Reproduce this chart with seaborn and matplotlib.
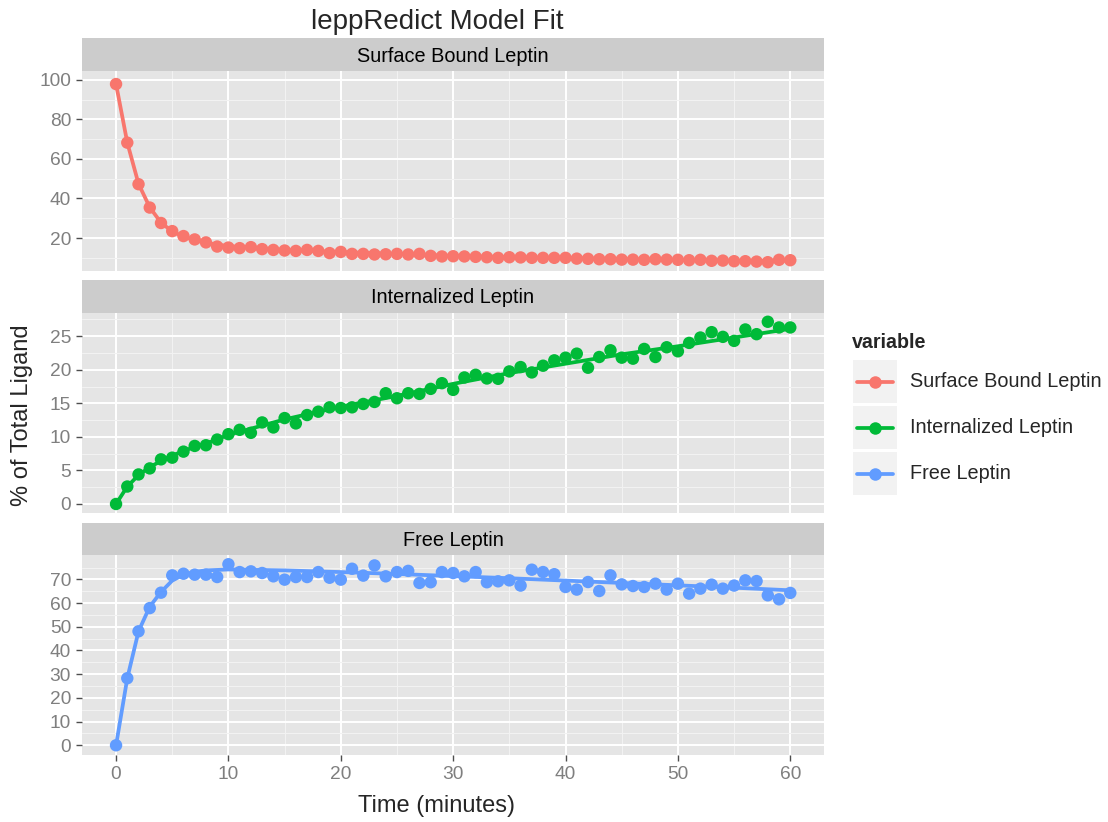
import numpy as np
import pandas as pd
import seaborn as sb
import matplotlib
matplotlib.use("Agg")
import matplotlib.pyplot as plt
import matplotlib.patches as mpatches
from matplotlib.lines import Line2D
from matplotlib.legend_handler import HandlerTuple, HandlerLine2D

# measured data, one point per minute
time = list(range(61))
surface = [97.8, 68.2, 47.2, 35.4, 27.6, 23.5, 21.0, 19.3, 17.8, 15.7,
           15.2, 14.9, 15.4, 14.4, 14.0, 13.7, 13.5, 14.0, 13.5, 12.4,
           13.0, 12.0, 12.0, 11.7, 11.8, 12.0, 11.7, 12.0, 11.0, 10.7,
           10.8, 10.7, 10.5, 10.3, 10.0, 10.3, 10.2, 10.0, 10.0, 10.0,
           10.0, 9.6, 9.5, 9.3, 9.3, 9.1, 9.1, 9.0, 9.3, 9.1,
           9.0, 8.8, 9.0, 8.5, 8.6, 8.3, 8.3, 8.1, 7.8, 9.0, 8.8]
internal = [0.0, 2.6, 4.4, 5.3, 6.65, 6.9, 7.8, 8.65, 8.75, 9.6,
            10.4, 11.05, 10.6, 12.15, 11.4, 12.8, 12.0, 13.25, 13.75, 14.4,
            14.3, 14.4, 14.9, 15.2, 16.5, 15.75, 16.5, 16.4, 17.15, 18.0,
            17.0, 18.85, 19.25, 18.7, 18.65, 19.75, 20.4, 19.6, 20.6, 21.4,
            21.8, 22.4, 20.3, 21.9, 22.9, 21.8, 21.65, 23.1, 21.9, 23.35,
            22.75, 24.0, 24.8, 25.6, 24.9, 24.3, 26.0, 25.3, 27.15, 26.3, 26.3]
free = [0.0, 28.3, 48.1, 57.9, 64.4, 71.7, 72.4, 72.0, 72.0, 71.0,
        76.4, 73.1, 73.4, 72.7, 71.3, 69.9, 71.0, 71.0, 73.1, 70.7,
        69.9, 74.5, 71.6, 75.9, 71.3, 73.1, 73.6, 68.5, 68.8, 73.1,
        72.7, 71.3, 73.1, 68.8, 69.2, 69.6, 67.4, 74.1, 73.1, 72.2,
        66.8, 65.7, 68.9, 65.1, 71.7, 67.9, 67.2, 66.8, 68.2, 65.7,
        68.2, 64.0, 66.1, 67.8, 66.1, 67.4, 69.6, 69.3, 63.3, 61.6, 64.3]

# model fit curves
fit_time = [0, 1, 2, 3, 4, 5, 6, 7, 8, 10, 15, 20, 25, 30, 35, 40, 45, 50, 55, 60]
surface_fit = [97.8, 68.2, 47.4, 35.5, 27.8, 23.3, 20.7, 19.0, 17.6, 15.9,
               14.0, 12.9, 12.0, 11.0, 10.4, 10.0, 9.4, 9.0, 8.6, 8.5]
internal_fit = [0.0, 2.6, 4.3, 5.5, 6.4, 7.2, 7.9, 8.5, 9.0, 10.3,
                12.6, 14.5, 16.1, 17.9, 19.5, 20.9, 22.3, 23.5, 24.8, 26.1]
free_fit = [0.0, 28.3, 48.1, 58.5, 64.7, 69.5, 72.0, 73.2, 73.8, 74.2,
            73.8, 73.1, 72.3, 71.4, 70.5, 69.5, 68.5, 67.5, 66.5, 65.4]

names = ["Surface Bound Leptin", "Internalized Leptin", "Free Leptin"]
colors = ["#F8766D", "#00BA38", "#619CFF"]
y_ticks = [[20, 40, 60, 80, 100], [0, 5, 10, 15, 20, 25], list(range(0, 71, 10))]
y_lims = [(3.5, 104.4), (-1.3, 28.5), (-4.1, 80.3)]


class KeyLine(HandlerLine2D):
    # centre the line on the key box and keep a small margin at both ends
    def create_artists(self, legend, orig_handle, xdescent, ydescent, width,
                       height, fontsize, trans):
        p = 0.2 * fontsize
        return super().create_artists(legend, orig_handle, xdescent - p,
                                      2 * ydescent, width - 2 * p, height,
                                      fontsize, trans)


sb.set_theme(style="darkgrid")
plt.rcParams['font.family'] = ['Liberation Sans', 'DejaVu Sans']

fig = plt.figure(figsize=(11.08, 8.22), dpi=100)
W, H = 1108.0, 822.0
panels = [(71, 270.7, 38), (312.7, 512.7, 280), (555, 755, 522.7)]
left, right = 82, 824

points = [surface, internal, free]
fits = [surface_fit, internal_fit, free_fit]

for i, (top, bot, stop) in enumerate(panels):
    ax = fig.add_axes([left / W, 1 - bot / H, (right - left) / W, (bot - top) / H])
    ax.set_facecolor("#E5E5E5")
    df = pd.DataFrame({"t": time, "v": points[i]})
    dfit = pd.DataFrame({"t": fit_time, "v": fits[i]})
    sb.lineplot(data=dfit, x="t", y="v", ax=ax, color=colors[i], linewidth=2.7, zorder=3)
    sb.scatterplot(data=df, x="t", y="v", ax=ax, color=colors[i], s=80,
                   edgecolor="none", linewidth=0, zorder=4)
    yt = y_ticks[i]
    ax.set_yticks(yt)
    step = yt[1] - yt[0]
    lo, hi = y_lims[i]
    minor = [v + step / 2 for v in [yt[0] - step] + yt]
    minor = [v for v in minor if lo < v < hi]
    ax.set_yticks(minor, minor=True)
    ax.set_xticks(range(0, 61, 10))
    ax.set_xticks(range(5, 61, 10), minor=True)
    ax.set_xlim(-3.03, 63)
    ax.set_ylim(lo, hi)
    ax.grid(which="major", color="white", linewidth=1.4)
    ax.grid(which="minor", color="#F2F2F2", linewidth=0.8)
    ax.set_axisbelow(True)
    for s in ax.spines.values():
        s.set_visible(False)
    ax.set_xlabel("")
    ax.set_ylabel("")
    ax.tick_params(axis="y", which="major", left=True, length=4.3, width=1.0,
                   color="#4D4D4D", labelsize=13.8, labelcolor="#7F7F7F", pad=3.6)
    ax.tick_params(which="minor", length=0)
    if i < 2:
        ax.tick_params(axis="x", which="major", bottom=False, labelbottom=False)
    else:
        ax.tick_params(axis="x", which="major", bottom=True, length=4.3, width=1.0,
                       color="#4D4D4D", labelsize=13.8, labelcolor="#7F7F7F", pad=3.6)
    # facet strip
    sax = fig.add_axes([left / W, 1 - top / H, (right - left) / W, (top - stop) / H])
    sax.set_facecolor("#CCCCCC")
    sax.set_xticks([])
    sax.set_yticks([])
    for s in sax.spines.values():
        s.set_visible(False)
    sax.text(0.5, 0.45, names[i], ha="center", va="center", fontsize=14.3,
             color="black", transform=sax.transAxes)

fig.text(437 / W, 1 - 22 / H, "leppRedict Model Fit", ha="center", va="center", fontsize=20)
fig.text(436 / W, 1 - 806 / H, "Time (minutes)", ha="center", va="center", fontsize=17)
fig.text(22 / W, 1 - 415 / H, "% of Total Ligand", ha="center", va="center",
         rotation=90, fontsize=17)

# legend
fig.text(852 / W, 1 - 348 / H, "variable", ha="left", va="baseline",
         fontsize=14.1, fontweight="bold")
handles = []
for c in colors:
    bg = mpatches.Rectangle((0, 0), 1, 1, facecolor="#F2F2F2", edgecolor="none")
    ln = Line2D([], [], color=c, linewidth=2.7, marker="o", markersize=9,
                markeredgewidth=0)
    handles.append((bg, ln))
leg = fig.legend(handles, names, loc="upper left",
                 bbox_to_anchor=(853 / W, 1 - 360 / H), frameon=False,
                 fontsize=14.3,
                 handler_map={tuple: HandlerTuple(ndivide=1, pad=0),
                              Line2D: KeyLine()},
                 handlelength=2.22, handleheight=2.96, labelspacing=0.15,
                 handletextpad=0.65, borderpad=0, borderaxespad=0)

plt.savefig("out.png", dpi=100)
